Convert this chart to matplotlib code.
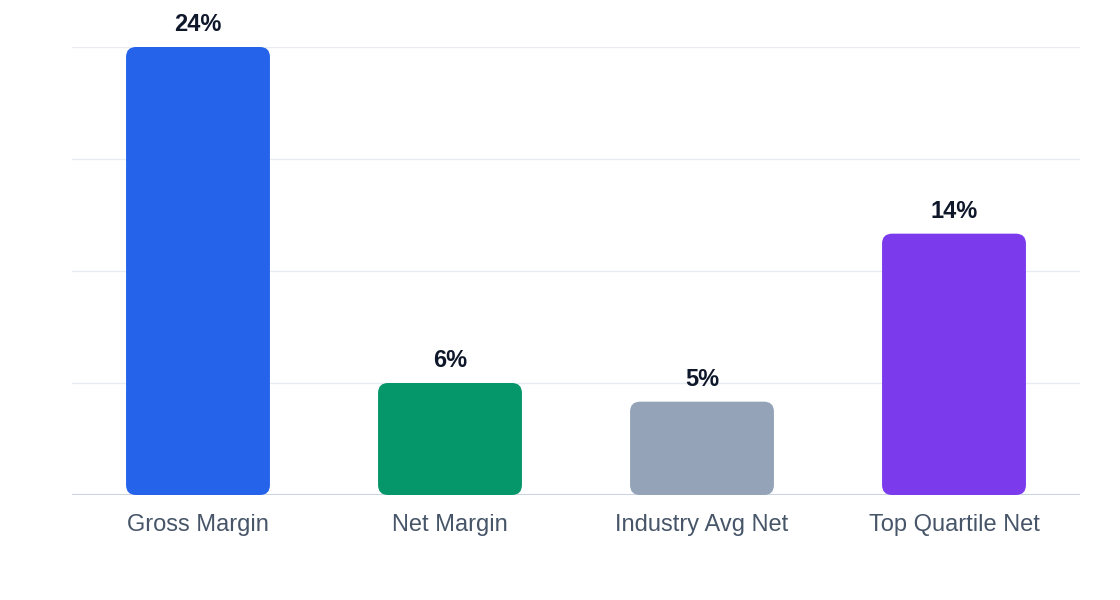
import matplotlib
matplotlib.use("Agg")
import matplotlib.pyplot as plt
from matplotlib.patches import FancyBboxPatch

plt.rcParams['font.family'] = ['Liberation Sans', 'DejaVu Sans']

categories = ["Gross Margin", "Net Margin", "Industry Avg Net", "Top Quartile Net"]
values = [24, 6, 5, 14]
labels = ["24%", "6%", "5%", "14%"]
colors = ["#2563eb", "#059669", "#94a3b8", "#7c3aed"]

W, H, DPI = 1120, 600, 100
fig = plt.figure(figsize=(W / DPI, H / DPI), dpi=DPI)
left, right, bottom, top = 72, 1080, 495, 47
ax = fig.add_axes([left / W, 1 - bottom / H, (right - left) / W, (bottom - top) / H])

ax.set_xlim(-0.5, len(categories) - 0.5)
ax.set_ylim(0, 24)

# pixel scale of data units, for rounded corners
px_x = (right - left) / len(categories)
px_y = (bottom - top) / 24.0
radius_px = 10
bar_w = 0.571

for y in [6, 12, 18, 24]:
    ax.axhline(y, color="#e8ebf0", lw=1, zorder=0)
ax.axhline(0, color="#cbd5e1", lw=2.2, zorder=1)

for i, (v, c, lab) in enumerate(zip(values, colors, labels)):
    r = radius_px / px_x
    p = FancyBboxPatch((i - bar_w / 2, 0), bar_w, v,
                       boxstyle=f"round,pad=0,rounding_size={r}",
                       mutation_aspect=px_x / px_y,
                       facecolor=c, edgecolor="none", zorder=2)
    ax.add_patch(p)
    ax.annotate(lab, (i, v), xytext=(0, 11.5), textcoords="offset points",
                ha="center", va="baseline", fontsize=17, fontweight="bold",
                color="#0f172a")

ax.set_xticks(range(len(categories)))
ax.set_xticklabels(categories, fontsize=17, color="#475569")
ax.tick_params(axis="x", length=0, pad=14)
ax.set_yticks([])
for s in ax.spines.values():
    s.set_visible(False)

fig.savefig("out.png", dpi=DPI)
